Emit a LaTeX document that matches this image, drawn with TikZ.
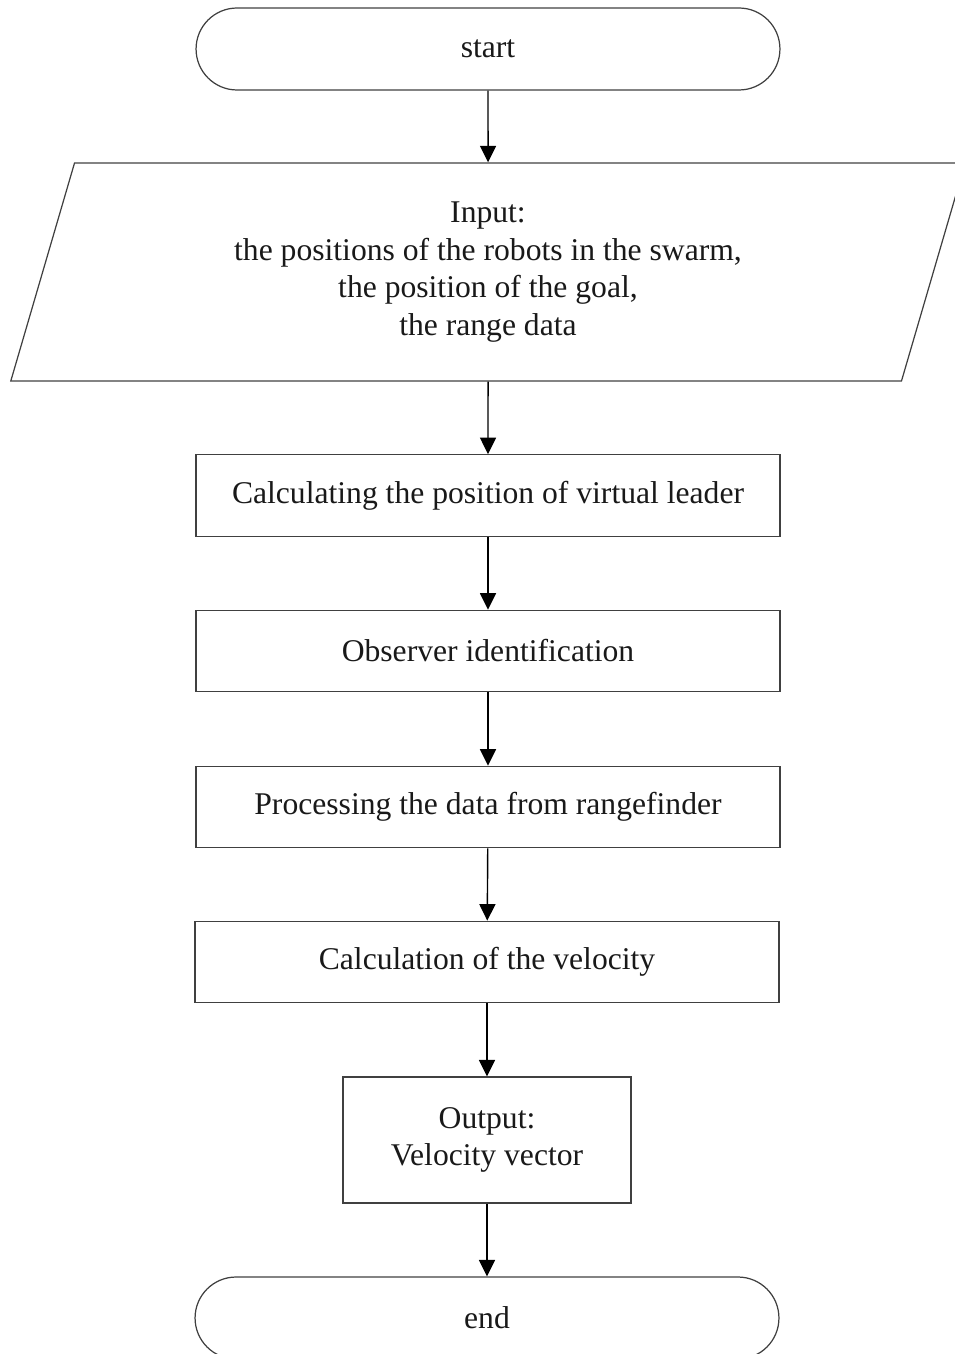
\documentclass[tikz,border=0pt]{standalone}
\usepackage{fontspec}
\setmainfont{Liberation Serif}
\usetikzlibrary{shapes.geometric,arrows.meta}
\tikzstyle{term}=[shape=rectangle,
                draw=black!75,
                rounded corners=0.82cm,
                minimum height=1.64cm,
                minimum width=11.68cm,
                line width=0.7pt]
\tikzstyle{io}=[shape=trapezium,
                draw=black!75,
                trapezium left angle=75.3,
                trapezium right angle=104.7,
                trapezium stretches=true,
                minimum height=4.36cm,
                minimum width=19.10cm,
                align=center,
                line width=0.7pt]
\tikzstyle{proc}=[shape=rectangle,
                draw=black!75,
                minimum height=1.63cm,
                minimum width=11.68cm,
                line width=0.7pt]

\begin{document}
\begin{tikzpicture}[x=0.02cm,y=-0.02cm,>={Triangle[length=0.33cm,width=0.32cm]},
                    font=\fontsize{18}{21.5}\selectfont,text=black!90]
\useasboundingbox (0,0) rectangle (954,1354);
% start and input
\node[term] (start) at (488,49) {start};
\node[io] (input) at (488,272) {Input:\\the positions of the robots in the swarm,\\the position of the goal,\\the range data};

% processing steps
\node[proc] (leader) at (488,495.5) {Calculating the position of virtual leader};
\node[proc] (observer) at (488,651) {Observer identification};
\node[proc] (range) at (488,807) {Processing the data from rangefinder};
\node[proc] (velocity) at (487,962) {Calculation of the velocity};

% output and end
\node[proc,minimum width=5.76cm,minimum height=2.52cm,align=center] (output) at (487,1140) {Output:\\Velocity vector};
\node[term] (end) at (487,1318) {end};

% arrows
\path[->,line width=0.8pt] (start) edge (input)
          (input) edge (leader)
          (leader) edge (observer)
          (observer) edge (range)
          (range) edge (velocity)
          (velocity) edge (output)
          (output) edge (end);
\end{tikzpicture}
\end{document}
